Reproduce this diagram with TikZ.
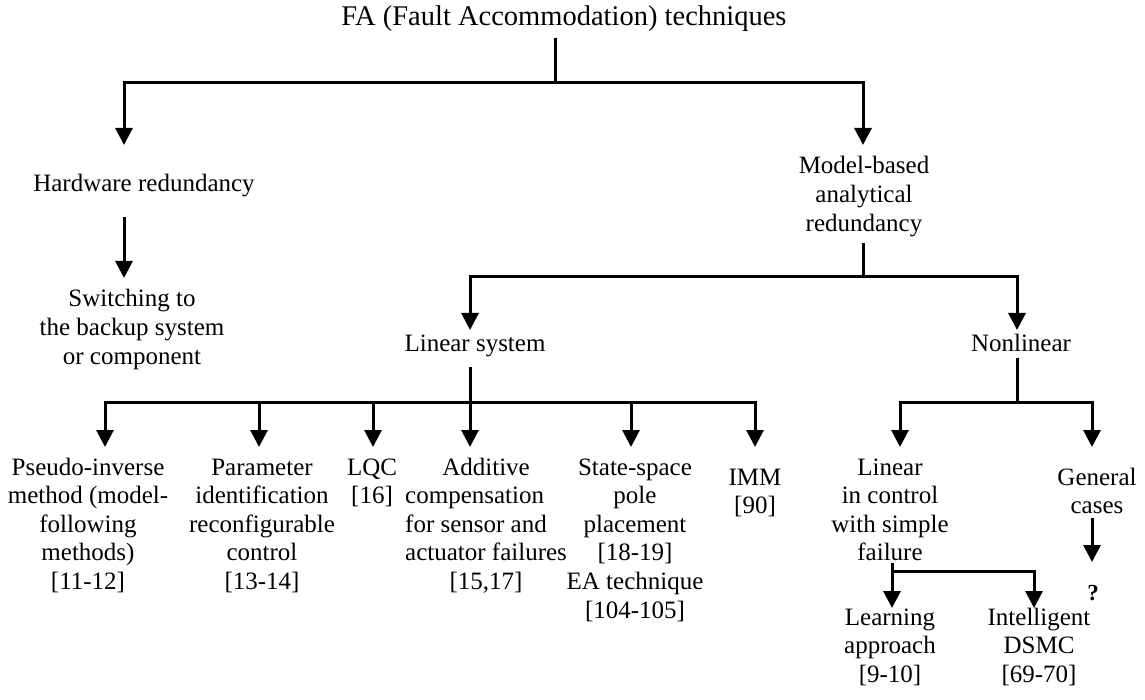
\documentclass[tikz,border=0pt]{standalone}
\usepackage{fontspec}
\setmainfont{Liberation Serif}
\usetikzlibrary{arrows.meta}
% centred and left-aligned multi-line labels, first baseline on top
\newcommand{\stack}[1]{\begin{tabular}[t]{@{}c@{}}#1\end{tabular}}
\newcommand{\lstack}[1]{\begin{tabular}[t]{@{}l@{}}#1\end{tabular}}
\newcommand{\ctr}[1]{\multicolumn{1}{@{}c@{}}{#1}}

\begin{document}
\begin{tikzpicture}[x=1pt,y=-1pt,
  every node/.style={inner sep=0pt,anchor=base,font=\fontsize{25}{28.6}\selectfont},
  titletext/.style={font=\fontsize{28.5}{33}\selectfont},
  qmark/.style={font=\fontsize{23}{26}\selectfont\bfseries},
  link/.style={line width=3pt},
  arr/.style={link,-{Triangle[width=17pt,length=17pt]}}]

\fill[white] (0,0) rectangle (1145,700);
\useasboundingbox (0,0) rectangle (1145,700);

% ---- root ----
\node[titletext] (fa) at (564,26) {FA (Fault Accommodation) techniques};
\coordinate (fa-out) at (555,38);
\coordinate (j0) at (555,83);

% ---- hardware branch ----
\coordinate (hw-in) at (124,145);
\node (hw) at (144,192) {Hardware redundancy};
\coordinate (hw-out) at (124,217);
\coordinate (sw-in) at (124,278);
\node (sw) at (132,307) {\stack{Switching to\\the backup system\\or component}};

% ---- analytical branch ----
\coordinate (mb-in) at (863,145);
\node (mb) at (864,174) {\stack{Model-based\\analytical\\redundancy}};
\coordinate (mb-out) at (863,243);
\coordinate (j1) at (863,277);

\coordinate (ls-in) at (470,330);
\node (ls) at (475,352) {Linear system};
\coordinate (ls-out) at (470,367);
\coordinate (j2) at (470,402);

\coordinate (nl-in) at (1017,330);
\node (nl) at (1021,352) {Nonlinear};
\coordinate (nl-out) at (1017,358);
\coordinate (j3) at (1017,402);

% ---- linear techniques ----
\coordinate (pi-in) at (105,447);
\coordinate (pr-in) at (259,447);
\coordinate (lq-in) at (373,447);
\coordinate (ad-in) at (470,447);
\coordinate (ss-in) at (631,447);
\coordinate (im-in) at (755,447);

\node (pi) at (88,475) {\stack{Pseudo-inverse\\method (model-\\following\\methods)\\{[11-12]}}};
\node (pr) at (262,475) {\stack{Parameter\\identification\\reconfigurable\\control\\{[13-14]}}};
\node (lq) at (372,475) {\stack{LQC\\{[16]}}};
\node[anchor=base west] (ad) at (405,475)
  {\lstack{\ctr{Additive}\\compensation\\for sensor and\\actuator failures\\\ctr{[15,17]}}};
\node (ss) at (635,475) {\stack{State-space\\pole\\placement\\{[18-19]}\\EA technique\\{[104-105]}}};
\node (im) at (755,485) {\stack{IMM\\{[90]}}};

% ---- nonlinear techniques ----
\coordinate (lc-in) at (900,447);
\coordinate (gc-in) at (1092,447);
\node (lc) at (890,475) {\stack{Linear\\in control\\with simple\\failure}};
\node (gc) at (1097,485) {\stack{General\\cases}};
\coordinate (gc-out) at (1092,518);
\coordinate (q-in) at (1092,562);
\node[qmark] (q) at (1093,600) {?};

\coordinate (lc-out) at (892,563);
\coordinate (k) at (892,571);
\coordinate (lr-in) at (892,608);
\coordinate (ig-in) at (1034,608);
\node (lr) at (890,625) {\stack{Learning\\approach\\{[9-10]}}};
\node (ig) at (1039,625) {\stack{Intelligent\\DSMC\\{[69-70]}}};

% ---- connectors ----
\draw[link] (fa-out) -- (j0);
\draw[arr] (j0) -| (hw-in);
\draw[arr] (j0) -| (mb-in);
\draw[arr] (hw-out) -- (sw-in);

\draw[link] (mb-out) -- (j1);
\draw[arr] (j1) -| (ls-in);
\draw[arr] (j1) -| (nl-in);

\draw[link] (ls-out) -- (j2);
\foreach \t in {pi,pr,lq,ad,ss,im}
  \draw[arr] (j2) -| (\t-in);

\draw[link] (nl-out) -- (j3);
\draw[arr] (j3) -| (lc-in);
\draw[arr] (j3) -| (gc-in);
\draw[arr] (gc-out) -- (q-in);

\draw[arr] (lc-out) -- (lr-in);
\draw[arr] (k) -| (ig-in);
\end{tikzpicture}
\end{document}
